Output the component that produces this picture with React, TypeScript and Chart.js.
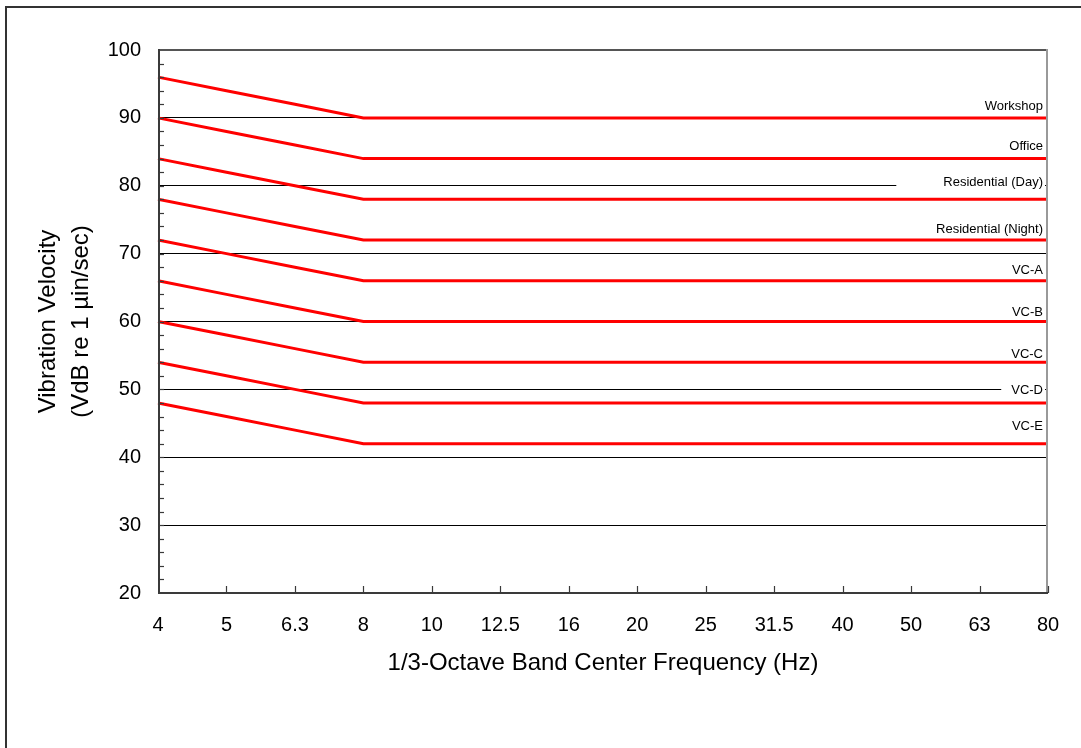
import React, { useEffect, useRef } from "react";
import { Chart, registerables } from "chart.js";

Chart.register(...registerables);

const frequencies = ["4", "5", "6.3", "8", "10", "12.5", "16", "20", "25", "31.5", "40", "50", "63", "80"];

const workshop = [96, 94, 92, 90, 90, 90, 90, 90, 90, 90, 90, 90, 90, 90];
const office = [90, 88, 86, 84, 84, 84, 84, 84, 84, 84, 84, 84, 84, 84];
const residentialDay = [84, 82, 80, 78, 78, 78, 78, 78, 78, 78, 78, 78, 78, 78];
const residentialNight = [78, 76, 74, 72, 72, 72, 72, 72, 72, 72, 72, 72, 72, 72];
const vcA = [72, 70, 68, 66, 66, 66, 66, 66, 66, 66, 66, 66, 66, 66];
const vcB = [66, 64, 62, 60, 60, 60, 60, 60, 60, 60, 60, 60, 60, 60];
const vcC = [60, 58, 56, 54, 54, 54, 54, 54, 54, 54, 54, 54, 54, 54];
const vcD = [54, 52, 50, 48, 48, 48, 48, 48, 48, 48, 48, 48, 48, 48];
const vcE = [48, 46, 44, 42, 42, 42, 42, 42, 42, 42, 42, 42, 42, 42];

const seriesNames = ["Workshop", "Office", "Residential (Day)", "Residential (Night)", "VC-A", "VC-B", "VC-C", "VC-D", "VC-E"];
const seriesValues = [workshop, office, residentialDay, residentialNight, vcA, vcB, vcC, vcD, vcE];
// value (VdB) at which each curve's text label is centred
const labelLevels = [91.7, 85.8, 80.45, 73.6, 67.5, 61.4, 55.1, 49.8, 44.5];

const yTitleLines = ["Vibration Velocity", "(VdB re 1 \u00b5in/sec)"];
const xTitle = "1/3-Octave Band Center Frequency (Hz)";

const FONT = 'Arial, "Liberation Sans", sans-serif';
const LABEL_BOX_PAD = [8, 8, 47, 8, 8, 8, 8, 10, 8];

const decorPlugin = {
  id: "decor",
  beforeDraw(chart: any) {
    const ctx = chart.ctx;
    ctx.save();
    ctx.fillStyle = "#ffffff";
    ctx.fillRect(0, 0, chart.width, chart.height);
    // outer frame (left and top)
    ctx.fillStyle = "#333333";
    ctx.fillRect(5, 6, 2, chart.height - 6);
    ctx.fillRect(5, 6, chart.width - 5, 2);
    ctx.restore();
  },
  beforeDatasetsDraw(chart: any) {
    const ctx = chart.ctx;
    const y = chart.scales.y;
    const area = chart.chartArea;
    ctx.save();
    ctx.font = `13px ${FONT}`;
    ctx.textBaseline = "middle";
    ctx.textAlign = "right";
    const xr = area.right - 5;
    seriesNames.forEach((name, i) => {
      const py = y.getPixelForValue(labelLevels[i]);
      const w = ctx.measureText(name).width;
      ctx.fillStyle = "#ffffff";
      ctx.fillRect(xr - w - LABEL_BOX_PAD[i], py - 8, w + LABEL_BOX_PAD[i] + 2, 16);
      ctx.fillStyle = "#000000";
      ctx.fillText(name, xr, py);
    });
    ctx.restore();
  },
  afterDraw(chart: any) {
    const ctx = chart.ctx;
    const area = chart.chartArea;
    const x = chart.scales.x;
    const y = chart.scales.y;
    ctx.save();
    // plot border top / right
    ctx.fillStyle = "#555555";
    ctx.fillRect(area.left, area.top - 1, area.right - area.left, 2);
    ctx.fillStyle = "#999999";
    ctx.fillRect(area.right - 2, area.top - 1, 2, area.bottom - area.top + 1);
    // axes
    ctx.fillStyle = "#3a3a3a";
    ctx.fillRect(area.left, area.top - 1, 2, area.bottom - area.top + 2);
    ctx.fillRect(area.left, area.bottom - 1, area.right - area.left, 2);
    // minor y ticks every 2
    ctx.strokeStyle = "#3a3a3a";
    ctx.lineWidth = 1.2;
    for (let v = 22; v < 100; v += 2) {
      const py = Math.round(y.getPixelForValue(v)) + 0.5;
      ctx.beginPath();
      ctx.moveTo(area.left, py);
      ctx.lineTo(area.left + 6, py);
      ctx.stroke();
    }
    // x ticks
    for (let i = 1; i < frequencies.length; i++) {
      const px = Math.round(x.getPixelForValue(i)) + 0.5;
      ctx.beginPath();
      ctx.moveTo(px, area.bottom);
      ctx.lineTo(px, area.bottom - 7);
      ctx.stroke();
    }
    // axis titles
    ctx.fillStyle = "#000000";
    ctx.font = `24px ${FONT}`;
    ctx.textAlign = "center";
    ctx.textBaseline = "middle";
    ctx.fillText(xTitle, (area.left + area.right) / 2, 663);
    const cy = (area.top + area.bottom) / 2;
    const xs = [48, 81];
    yTitleLines.forEach((line, i) => {
      ctx.save();
      ctx.translate(xs[i], cy);
      ctx.rotate(-Math.PI / 2);
      ctx.fillText(line, 0, 0);
      ctx.restore();
    });
    ctx.restore();
  },
};

export default function App() {
  const ref = useRef<HTMLCanvasElement | null>(null);
  useEffect(() => {
    if (!ref.current) return;
    const chart = new Chart(ref.current, {
      type: "line",
      data: {
        labels: frequencies,
        datasets: seriesValues.map((vals, i) => ({
          label: seriesNames[i],
          data: vals,
          borderColor: "#ff0000",
          backgroundColor: "#ff0000",
          borderWidth: 3,
          pointRadius: 0,
          tension: 0,
          fill: false,
        })),
      },
      options: {
        animation: false,
        responsive: false,
        maintainAspectRatio: false,
        layout: { padding: { top: 50, right: 33, left: 0, bottom: 0 } },
        plugins: { legend: { display: false }, tooltip: { enabled: false }, title: { display: false } },
        scales: {
          x: {
            type: "category",
            offset: false,
            grid: { display: false, drawTicks: false },
            border: { display: false },
            ticks: {
              font: { family: FONT, size: 20 },
              color: "#000000",
              padding: 20,
              maxRotation: 0,
              autoSkip: false,
            },
            afterFit: (s: any) => {
              s.height = 155;
            },
          },
          y: {
            min: 20,
            max: 100,
            grid: {
              drawTicks: false,
              lineWidth: 1,
              color: (c: any) => {
                const v = c.tick ? c.tick.value : 0;
                return v > 20 && v < 100 ? "#000000" : "rgba(0,0,0,0)";
              },
            },
            border: { display: false },
            ticks: {
              stepSize: 10,
              font: { family: FONT, size: 20 },
              color: "#000000",
              padding: 17,
            },
            afterFit: (s: any) => {
              s.width = 158;
            },
          },
        },
      },
      plugins: [decorPlugin],
    });
    return () => chart.destroy();
  }, []);
  return (
    <div style={{ position: "fixed", left: 0, top: 0, width: 1081, height: 748, background: "#fff" }}>
      <canvas ref={ref} width={1081} height={748} style={{ display: "block", width: 1081, height: 748 }} />
    </div>
  );
}
